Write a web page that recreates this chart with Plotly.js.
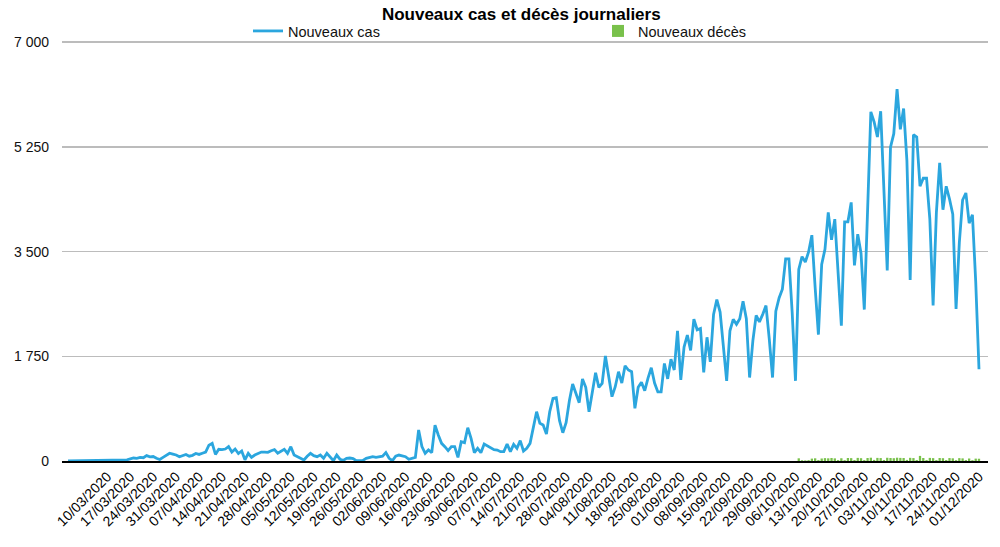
<!DOCTYPE html>
<html>
<head>
<meta charset="utf-8">
<script src="https://cdn.plot.ly/plotly-3.0.1.min.js"></script>
<style>html,body{margin:0;padding:0;background:#fff;}#chart{width:1000px;height:547px;}</style>
</head>
<body>
<div id="chart"></div>
<script>
// First day of the series and daily new cases (one value per day)
const startDate = '2020-02-27';
const cases = [
  0,1,0,1,2,1,3,2,4,5,
  8,10,12,15,14,16,12,18,20,
  35,50,45,60,55,90,70,75,45,25,60,
  95,130,115,100,70,90,110,80,95,125,110,130,150,
  265,295,110,195,190,200,240,150,200,125,
  167,20,128,60,100,128,150,150,145,172,
  190,130,156,195,128,240,100,72,40,17,
  80,128,90,72,100,45,128,60,5,100,
  30,10,45,50,40,5,5,10,45,60,
  72,60,70,80,140,45,5,80,100,84,
  72,28,45,60,518,240,128,184,140,600,
  435,295,240,173,240,240,61,323,306,557,
  379,139,212,139,284,250,210,190,184,156,
  156,284,156,278,212,340,167,212,295,574,
  824,630,600,451,824,1047,1058,674,473,640,
  1008,1287,1131,975,1370,1231,824,1131,1476,1231,
  1298,1755,1437,1075,1242,1493,1302,1592,1521,1493,
  881,1231,1318,1176,1384,1559,1302,1154,1154,1630,
  1373,1701,1521,2177,1357,1904,2106,1849,2369,2193,
  2215,1482,2068,1657,2451,2697,2489,1876,1340,2177,
  2369,2286,2379,2669,2379,1395,2013,2434,2325,2451,
  2598,2040,1395,2505,2724,2872,3380,3380,2478,1340,
  3203,3416,3326,3494,3774,2900,2111,3287,3539,4155,
  3696,4043,3091,2262,3998,3998,4323,3270,3791,3472,
  2531,4211,5835,5667,5415,5846,4603,3186,5247,5471,
  6216,5544,5891,5023,3024,5454,5415,4592,4726,4726,
  4043,2598,4155,4984,4200,4592,4379,4127,2542,3651,
  4362,4480,3976,4116,3000,1534
];
// Daily new deaths, starting on deathsStartDate
const deathsStartDate = '2020-10-07';
const deaths = [
  45,12,10,14,40,45,15,42,48,45,
  50,44,15,46,14,50,48,16,52,47,
  15,50,55,18,52,49,16,54,50,47,
  55,52,50,18,53,49,17,85,50,16,
  52,48,15,50,47,16,49,45,14,48,
  44,15,42,13,40,38
];
// Weekly x tick labels: first and last labelled day
const firstTickDate = '2020-03-10';
const lastTickDate = '2020-12-01';
const yTickVals = [0, 1750, 3500, 5250, 7000];
const yTickText = ['0', '1 750', '3 500', '5 250', '7 000'];
const seriesNames = ['Nouveaux cas', 'Nouveaux décès'];
const chartTitle = 'Nouveaux cas et décès journaliers';

const DAY = 86400000;
function dayList(start, n, step) {
  const out = [];
  const d0 = new Date(start + 'T00:00:00Z');
  for (let i = 0; i < n; i++) {
    const d = new Date(d0.getTime() + i * step * DAY);
    out.push(d.toISOString().slice(0, 10));
  }
  return out;
}
function fmt(iso) {
  const p = iso.split('-');
  return p[2] + '/' + p[1] + '/' + p[0];
}
const caseDates = dayList(startDate, cases.length, 1);
const deathDates = dayList(deathsStartDate, deaths.length, 1);
const nWeeks = Math.round((new Date(lastTickDate) - new Date(firstTickDate)) / (7 * DAY)) + 1;
const xTickVals = dayList(firstTickDate, nWeeks, 7);
const xTickText = xTickVals.map(fmt);

const t0 = new Date(startDate + 'T00:00:00Z').getTime();
const tEnd = t0 + (cases.length - 1) * DAY;
const xRange = [new Date(t0 - 1.83 * DAY).toISOString(), new Date(tEnd + 2.75 * DAY).toISOString()];

const traces = [
  {
    type: 'scatter', mode: 'lines', name: seriesNames[0],
    x: caseDates, y: cases,
    line: {color: '#2ba6de', width: 2.8}
  },
  {
    type: 'bar', name: seriesNames[1],
    x: deathDates, y: deaths,
    marker: {color: '#79c14b'}
  }
];

const font = 'Liberation Sans, Arial, Helvetica, sans-serif';
const layout = {
  width: 1000, height: 547,
  margin: {l: 62, r: 12, t: 41, b: 86, autoexpand: false},
  paper_bgcolor: '#fff', plot_bgcolor: '#fff',
  font: {family: font, size: 14, color: '#111'},
  title: {
    text: '<b>' + chartTitle + '</b>',
    font: {family: font, size: 17, color: '#000'},
    x: 0.496, xref: 'paper', xanchor: 'center',
    y: 0.974, yref: 'container', yanchor: 'middle'
  },
  showlegend: true,
  legend: {
    orientation: 'h', xref: 'container', x: 0.248, xanchor: 'left',
    yref: 'container', y: 1 - 31 / 547, yanchor: 'middle',
    entrywidth: 305, entrywidthmode: 'pixels',
    font: {family: font, size: 14.5, color: '#111'},
    bgcolor: 'rgba(0,0,0,0)', traceorder: 'normal'
  },
  bargap: 0.3,
  xaxis: {
    type: 'date', range: xRange,
    tickmode: 'array', tickvals: xTickVals, ticktext: xTickText,
    tickangle: -45, ticks: '', showgrid: false, zeroline: false,
    showline: true, linecolor: '#000', linewidth: 2,
    tickfont: {family: font, size: 14, color: '#000'}
  },
  yaxis: {
    range: [0, 7020], tickmode: 'array', tickvals: yTickVals, ticktext: yTickText,
    showgrid: true, gridcolor: '#bcbcbc', gridwidth: 1.5,
    zeroline: false, showline: false, ticks: '', ticklabelstandoff: 12,
    tickfont: {family: font, size: 14, color: '#111'}
  }
};

Plotly.newPlot('chart', traces, layout, {displayModeBar: false, staticPlot: true});
</script>
</body>
</html>
